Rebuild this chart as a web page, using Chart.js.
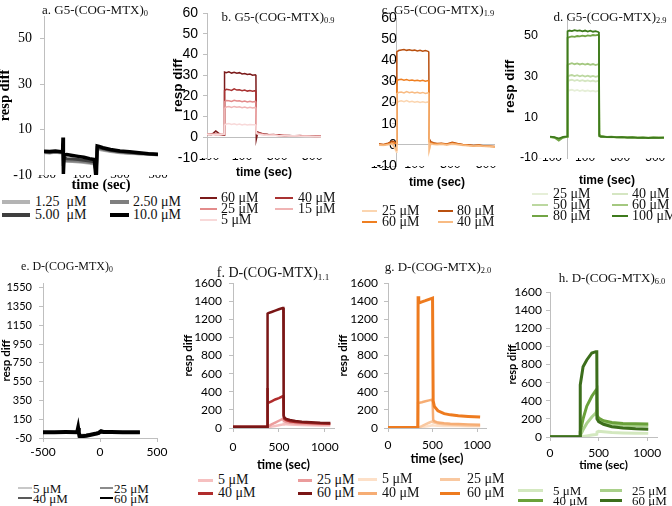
<!DOCTYPE html>
<html>
<head>
<meta charset="utf-8">
<script src="https://cdn.jsdelivr.net/npm/chart.js@4.4.1/dist/chart.umd.min.js"></script>
<style>
  html, body { margin: 0; padding: 0; background: #fff; }
  #fig { position: relative; width: 672px; height: 506px; overflow: hidden; background: #fff; }
  #fig canvas { position: absolute; }
  .ttl { position: absolute; font-family: "Liberation Serif", serif; white-space: nowrap; line-height: 1; transform: translate(-50%, -50%); color: #111; }
  .ttl sub { font-size: 65%; vertical-align: -0.3em; line-height: 0; }
  .key { position: absolute; }
  .key-txt { position: absolute; font-family: "Liberation Serif", serif; white-space: pre; line-height: 1; transform: translateY(-50%); color: #111; }
</style>
</head>
<body>
<div id="fig"></div>
<script>
// --- tick labels ---
const g5XTicks = [-100, 100, 300, 500];
const aYTicks = [-10, 10, 30, 50];
const bYTicks = [-10, 0, 10, 20, 30, 40, 50, 60];
const dYTicks = [-10, 10, 30, 50];
const eXTicks = [-500, 0, 500];
const eYTicks = [-50, 150, 350, 550, 750, 950, 1150, 1350, 1550];
const dXTicks = [0, 500, 1000];
const dYTicks2 = [0, 200, 400, 600, 800, 1000, 1200, 1400, 1600];

// --- a. G5-(COG-MTX)0 ---
const aTime = [-100, -70, -40, -10, -2, 0, 2, 6, 20, 50, 80, 110, 140, 165, 172, 176, 180, 190, 210, 250, 300, 350, 400, 450, 500];
const aLabels = ['1.25  μM', '2.50 μM', '5.00  μM', '10.0 μM'];
const aColors = ['#b4b4b4', '#7f7f7f', '#3f3f3f', '#000000'];
const a125 = [-0.2, -0.3, 0.0, -0.3, -0.3, 1.0, -3.5, -3.8, -3.9, -4.1, -4.3, -4.5, -4.8, -5.2, -7.0, -6.0, 1.2, 1.2, 0.9, 0.3, -0.2, -0.5, -0.7, -0.9, -1.2];
const a250 = [0.0, -0.2, 0.1, -0.1, -0.2, 2.0, -4.0, -3.5, -3.7, -3.8, -4.0, -4.2, -4.5, -4.8, -7.5, -6.0, 1.8, 1.6, 1.2, 0.6, 0.0, -0.3, -0.6, -0.8, -1.1];
const a500 = [0.2, 0.0, 0.3, 0.1, 0.0, 4.0, -6.0, -2.5, -2.8, -3.0, -3.2, -3.5, -3.8, -4.2, -8.0, -7.0, 2.2, 2.0, 1.6, 0.9, 0.3, 0.0, -0.4, -0.7, -1.0];
const a100 = [0.5, 0.3, 0.6, 0.2, 0.4, 6.5, -9.5, -1.2, -1.0, -1.4, -1.8, -2.2, -2.8, -3.2, -10, -9.5, 2.8, 2.6, 2.0, 1.2, 0.6, 0.2, -0.2, -0.6, -0.9];

// --- b, c, d share one time base ---
const gTime = [-100, -75, -50, -25, -2, 0, 10, 25, 40, 55, 70, 85, 100, 115, 130, 145, 160, 175, 179, 181, 190, 205, 225, 250, 280, 310, 340, 370, 400, 430, 460, 490, 520, 550];

// --- b. G5-(COG-MTX)0.9 ---
const bLabels = ['60 μM', '40 μM', '25 μM', '15 μM', '5 μM'];
const bColors = ['#7b1a1a', '#a93232', '#e38b8b', '#f0b4b4', '#f8d9d9'];
const b60 = [1.5, 1.2, 3.0, 1.4, 1.0, 31.5, 31.2, 31.6, 31.0, 31.4, 30.9, 31.2, 30.6, 30.8, 30.3, 30.5, 30.0, 30.2, 29.8, -1.0, 2.5, 2.0, 1.6, 1.3, 1.0, 1.2, 0.8, 0.9, 0.6, 0.8, 0.5, 0.6, 0.4, 0.5];
const b40 = [1.4, 1.6, 1.3, 1.5, 1.2, 22.5, 23.2, 23.0, 22.6, 23.4, 22.8, 22.9, 22.5, 22.8, 22.3, 22.6, 22.2, 22.5, 22.1, 2.8, 2.2, 1.9, 1.5, 1.2, 1.3, 1.0, 0.9, 0.8, 0.7, 0.9, 0.6, 0.5, 0.6, 0.5];
const b25 = [1.6, 1.3, 1.7, 1.2, 1.5, 17.2, 17.8, 17.6, 17.3, 17.9, 17.5, 17.6, 17.2, 17.5, 17.1, 17.4, 17.0, 17.3, 16.9, 2.5, 2.0, 1.7, 1.4, 1.1, 1.2, 0.9, 1.0, 0.7, 0.8, 0.6, 0.7, 0.5, 0.4, 0.5];
const b15 = [1.3, 1.5, 1.2, 1.6, 1.4, 14.0, 14.6, 14.8, 14.4, 14.9, 14.5, 14.7, 14.3, 14.6, 14.2, 14.5, 14.1, 14.4, 14.0, 2.2, 1.8, 1.5, 1.2, 1.0, 1.1, 0.8, 0.9, 0.6, 0.7, 0.5, 0.6, 0.4, 0.5, 0.3];
const b5 = [1.5, 1.2, 1.4, 1.3, 1.6, 5.9, 6.4, 6.6, 6.2, 6.5, 6.1, 6.4, 6.0, 6.3, 5.9, 6.2, 6.0, 6.1, 5.8, 1.8, 1.5, 1.3, 1.1, 0.9, 1.0, 0.7, 0.8, 0.6, 0.7, 0.5, 0.4, 0.5, 0.3, 0.4];

// --- c. G5-(COG-MTX)1.9 ---
const cLabels = ['25 μM', '80 μM', '60 μM', '40 μM'];
const cColors = ['#fbd5b0', '#b9500f', '#ef7f21', '#f8bb83'];
const c25 = [-0.2, -0.3, 0.0, 0.3, -3.5, 20.0, 20.5, 20.8, 20.4, 20.9, 20.3, 20.6, 20.2, 20.5, 20.1, 20.4, 20.0, 20.3, 19.9, -3.0, 0.4, 0.2, 0.0, 0.2, -0.2, 0.3, 0.0, -0.3, -0.5, -0.6, -0.5, -0.8, -0.9, -1.1];
const c80 = [0.5, 0.2, 0.8, 1.8, 1.0, 44.0, 44.6, 44.9, 45.1, 44.7, 45.0, 44.6, 44.8, 44.4, 44.7, 44.3, 44.6, 44.2, 44.0, 3.0, 1.5, 1.0, 0.6, 0.8, 0.4, 1.2, 0.6, 0.2, 0.0, -0.3, -0.1, -0.5, -0.6, -0.8];
const c60 = [0.2, 0.0, 0.4, 1.0, 0.5, 30.2, 30.8, 31.0, 30.6, 30.9, 30.4, 30.7, 30.3, 30.6, 30.2, 30.5, 30.1, 30.4, 30.0, 1.5, 1.0, 0.6, 0.4, 0.6, 0.2, 0.9, 0.4, 0.1, -0.2, -0.4, -0.2, -0.6, -0.7, -0.9];
const c40 = [0.0, -0.2, 0.2, 0.5, -2.5, 24.2, 24.8, 25.0, 24.6, 25.2, 24.7, 25.0, 24.5, 24.9, 24.4, 24.8, 24.3, 24.6, 24.2, -2.5, 0.6, 0.3, 0.2, 0.4, 0.0, 0.5, 0.2, -0.1, -0.3, -0.5, -0.4, -0.7, -0.8, -1.0];

// --- d. G5-(COG-MTX)2.9 ---
const dLabels = ['25 μM', '40 μM', '50 μM', '60 μM', '80 μM', '100 μM'];
const dColors = ['#e6efd8', '#d5e6c2', '#bcd8a0', '#a4c880', '#72a545', '#3e7a1c'];
const d25 = [0.2, 0.0, -0.3, 0.1, 0.3, 22.6, 23.1, 23.4, 22.9, 23.3, 22.8, 23.2, 22.7, 23.1, 22.6, 23.0, 22.5, 22.9, 22.4, 0.5, 0.3, 0.2, 0.1, 0.2, 0.0, 0.1, -0.1, 0.0, -0.2, 0.0, -0.1, 0.0, -0.2, 0.0];
const d40 = [0.1, -0.1, -0.4, 0.2, 0.2, 27.5, 28.0, 28.3, 27.8, 28.2, 27.7, 28.1, 27.6, 28.0, 27.5, 27.9, 27.4, 27.8, 27.3, 0.6, 0.4, 0.2, 0.2, 0.1, 0.1, 0.0, 0.1, -0.1, 0.0, -0.1, 0.0, -0.2, 0.0, -0.1];
const d50 = [0.3, 0.1, -0.6, 0.0, 0.4, 29.8, 30.3, 30.6, 30.1, 30.5, 30.0, 30.4, 29.9, 30.3, 29.8, 30.2, 29.7, 30.1, 29.6, 0.7, 0.5, 0.3, 0.2, 0.3, 0.1, 0.2, 0.0, 0.1, -0.1, 0.0, -0.1, 0.1, -0.1, 0.0];
const d60 = [0.2, 0.0, -0.8, 0.1, 0.5, 35.5, 36.0, 36.4, 35.9, 36.3, 35.8, 36.2, 35.7, 36.1, 35.6, 36.0, 35.5, 35.9, 35.4, 0.9, 0.6, 0.4, 0.3, 0.2, 0.2, 0.1, 0.2, 0.0, 0.1, -0.1, 0.0, 0.1, -0.1, 0.0];
const d80 = [0.3, 0.0, -1.5, 0.0, 0.4, 48.8, 49.2, 49.5, 49.3, 49.7, 49.5, 49.9, 49.6, 50.0, 49.8, 50.2, 50.0, 50.3, 50.1, 1.5, 0.8, 0.6, 0.3, 0.4, 0.2, 0.3, 0.1, 0.2, 0.0, 0.1, -0.1, 0.0, 0.1, 0.0];
const d100 = [0.5, 0.2, -0.5, 0.3, 0.6, 52.0, 52.4, 52.1, 52.6, 52.2, 52.5, 52.0, 52.4, 51.9, 52.3, 51.8, 52.1, 51.7, 51.5, 0.8, 0.4, 0.5, 0.2, 0.3, 0.1, 0.2, 0.0, 0.1, -0.1, 0.0, -0.2, 0.0, -0.1, 0.0];

// --- e. D-(COG-MTX)0 ---
const eTime = [-500, -400, -300, -200, -192, -186, -180, -170, -150, -120, -90, -60, -30, -10, 0, 10, 30, 100, 200, 300, 350];
const eLabels = ['5 μM', '25 μM', '40 μM', '60 μM'];
const eColors = ['#c8c8c8', '#8c8c8c', '#595959', '#000000'];
const e5 = [5, 5, 6, 5, 20, 2, -10, -14, -13, -11, -8, -4, 0, 2, 5, 8, 7, 6, 5, 5, 5];
const e25 = [8, 8, 9, 8, 30, 3, -15, -20, -19, -16, -11, -6, 0, 3, 8, 12, 10, 9, 8, 8, 8];
const e40 = [10, 10, 11, 10, 40, 5, -20, -25, -24, -20, -14, -8, -1, 4, 10, 16, 12, 11, 10, 10, 10];
const e60 = [12, 12, 13, 12, 57, 10, -29, -32, -30, -25, -18, -10, -2, 5, 14, 22, 15, 13, 12, 12, 12];

// --- f. D-(COG-MTX)1.1 ---
const fTime = [0, 100, 200, 300, 372, 375, 378, 385, 420, 460, 500, 540, 548, 552, 560, 580, 620, 680, 750, 850, 950, 1060];
const fLabels = ['5 μM', '25 μM', '40 μM', '60 μM'];
const fColors = ['#f6c0c0', '#eb9c9c', '#b02c2c', '#7a1616'];
const f5 = [5, 4, 4, 4, 4, 5, 6, 8, 15, 22, 30, 38, 38, 45, 44, 42, 38, 35, 32, 30, 28, 27];
const f25 = [10, 9, 9, 9, 9, 10, 14, 20, 40, 60, 80, 100, 100, 80, 72, 66, 58, 52, 48, 44, 41, 40];
const f40 = [15, 14, 14, 13, 14, 441, 276, 278, 295, 315, 330, 349, 349, 120, 100, 88, 75, 66, 60, 55, 50, 48];
const f60 = [15, 14, 14, 13, 14, 1255, 1262, 1268, 1280, 1295, 1310, 1324, 1324, 140, 115, 100, 88, 78, 70, 63, 58, 55];

// --- g. D-(COG-MTX)2.0 ---
const gTime2 = [0, 100, 200, 300, 335, 338, 345, 380, 420, 460, 500, 503, 507, 520, 560, 630, 700, 790, 900, 1034];
const gLabels = ['5 μM', '25 μM', '40 μM', '60 μM'];
const gColors = ['#fde0c8', '#f9c8a0', '#f6ad74', '#ee7b1f'];
const g5 = [0, 0, 0, 0, 0, 1, 2, 8, 15, 22, 30, 30, 28, 27, 25, 23, 22, 21, 20, 20];
const g25 = [1, 1, 1, 1, 1, 2, 5, 20, 40, 58, 74, 74, 62, 60, 50, 42, 36, 32, 28, 26];
const g40 = [3, 3, 3, 3, 3, 276, 276, 285, 295, 305, 313, 313, 90, 74, 60, 52, 47, 43, 40, 37];
const g60 = [5, 5, 5, 5, 5, 1453, 1379, 1392, 1405, 1420, 1434, 1434, 300, 239, 190, 158, 145, 136, 128, 121];

// --- h. D-(COG-MTX)6.0 ---
const hTime = [0, 100, 200, 300, 309, 311, 340, 378, 430, 471, 481, 484, 500, 550, 636, 750, 880, 1010];
const hLabels = ['5 μM', '25 μM', '40 μM', '60 μM'];
const hColors = ['#d3e8bf', '#a9d08a', '#6aa13a', '#3c6e1c'];
const h5 = [0, 0, 0, 0, 0, 0, 5, 12, 22, 28, 30, 55, 63, 58, 50, 45, 42, 40];
const h25 = [0, 0, 0, 0, 0, 15, 80, 150, 220, 265, 290, 200, 180, 155, 140, 130, 125, 122];
const h40 = [1, 1, 1, 1, 1, 60, 200, 340, 450, 515, 527, 240, 210, 180, 160, 150, 145, 143];
const h60 = [2, 2, 2, 2, 2, 574, 776, 850, 927, 942, 942, 200, 170, 140, 114, 100, 90, 85];

// --- styling ---
const AXIS = '#bfbfbf';
const SERIF = '"Liberation Serif", "Times New Roman", serif';
const SANS = '"Liberation Sans", Arial, sans-serif';
const CAL = 'Lato, "Open Sans", sans-serif';

const panels = [
  { time: aTime, series: [a125, a250, a500, a100], labels: aLabels, colors: aColors, widths: [3, 3, 3, 3.5],
    xr: [-100, 500], xt: g5XTicks, yr: [-10, 60], yt: aYTicks, upper: true,
    box: { L: 44, R: 158, T: 16, B: 175, yW: 47, xH: 19, padR: 16 },
    yTick: 4, yPad: 8, xPad: -7.8,
    font: { tick: SERIF, y: 14, x: 13, title: SERIF, yT: 14.5, xT: 14.5 }, xTitle: true,
    title: { text: 'a. G5-(COG-MTX)', sub: '0', cx: 95, cy: 9, size: 13 },
    key: { rows: [202, 215], cols: [[2, 28, 35], [110, 19, 133]], size: 14, thick: 4 } },
  { time: gTime, series: [b60, b40, b25, b15, b5], labels: bLabels, colors: bColors, widths: [1.5, 1.5, 1.5, 1.5, 1.5],
    xr: [-100, 550], xt: g5XTicks, yr: [-10, 60], yt: bYTicks, upper: true,
    box: { L: 207, R: 321, T: 13, B: 158, yW: 37, xH: 22, padR: 16 },
    yTick: 4, yPad: 5, xPad: -8.5,
    font: { tick: SANS, y: 14, x: 12.5, title: SANS, yT: 13.5, xT: 12 }, xTitle: true,
    title: { text: 'b. G5-(COG-MTX)', sub: '0.9', cx: 278, cy: 16, size: 13 },
    key: { rows: [198, 209, 220], cols: [[200, 17, 221], [275, 18, 298]], size: 14, thick: 2.5 } },
  { time: gTime, series: [c25, c80, c60, c40], labels: cLabels, colors: cColors, widths: [1.5, 1.5, 1.5, 1.5],
    xr: [-100, 550], xt: g5XTicks, yr: [-10, 60], yt: bYTicks, upper: true, floatY: true,
    box: { L: 379, R: 495, T: 18, B: 166, yW: 55, xH: 24, padR: 16, padL: 16 },
    yTick: 4, yPad: 3, xPad: -8.5,
    font: { tick: SANS, y: 14, x: 12.5, title: SANS, yT: 13.5, xT: 12 }, xTitle: true,
    title: { text: 'c. G5-(COG-MTX)', sub: '1.9', cx: 438, cy: 9, size: 13 },
    key: { rows: [211, 222], cols: [[362, 15, 382], [438, 15, 457]], size: 14, thick: 2 } },
  { time: gTime, series: [d25, d40, d50, d60, d80, d100], labels: dLabels, colors: dColors, widths: [1.8, 1.8, 1.8, 1.8, 1.8, 1.8],
    xr: [-100, 550], xt: g5XTicks, yr: [-10, 60], yt: dYTicks, upper: true, zeroAxis: true,
    box: { L: 550, R: 664, T: 15, B: 158, yW: 48, xH: 30, padR: 12 },
    yTick: 0, yPad: 12, xPad: -7.2,
    font: { tick: SANS, y: 12.5, x: 12, title: SANS, yT: 13.5, xT: 12 }, xTitle: true,
    title: { text: 'd. G5-(COG-MTX)', sub: '2.9', cx: 610, cy: 16, size: 13 },
    key: { rows: [194, 205, 216], cols: [[532, 16, 553], [612, 16, 632]], size: 14, thick: 2 } },
  { time: eTime, series: [e5, e25, e40, e60], labels: eLabels, colors: eColors, widths: [2, 2, 2.5, 4],
    xr: [-500, 500], xt: eXTicks, yr: [-50, 1600], yt: eYTicks,
    box: { L: 43, R: 157, T: 283, B: 438, yW: 44, xH: 30, padR: 16 },
    yTick: 4, yPad: 7, xPad: 3,
    font: { tick: CAL, y: 11, x: 12, title: CAL, yT: 11.5, xT: 12 }, xTitle: false,
    title: { text: 'e. D-(COG-MTX)', sub: '0', cx: 67, cy: 266, size: 12 },
    key: { rows: [488, 498], cols: [[18, 14, 33], [100, 13, 114]], size: 13, thick: 2 } },
  { time: fTime, series: [f5, f25, f40, f60], labels: fLabels, colors: fColors, widths: [2.5, 2.5, 2.5, 2.5],
    xr: [0, 1100], xt: dXTicks, yr: [0, 1600], yt: dYTicks2,
    box: { L: 233, R: 334, T: 283, B: 428, yW: 52, xH: 44, padR: 16 },
    yTick: 4, yPad: 7, xPad: 8,
    font: { tick: CAL, y: 12, x: 12, title: CAL, yT: 11.5, xT: 12.5 }, xTitle: true,
    title: { text: 'f. D-(COG-MTX)', sub: '1.1', cx: 273, cy: 273, size: 14 },
    key: { rows: [480, 493], cols: [[198, 15, 218], [298, 14, 317]], size: 14, thick: 3 } },
  { time: gTime2, series: [g5, g25, g40, g60], labels: gLabels, colors: gColors, widths: [2.5, 2.5, 2.5, 3],
    xr: [0, 1100], xt: dXTicks, yr: [0, 1600], yt: dYTicks2,
    box: { L: 388, R: 486, T: 283, B: 428, yW: 52, xH: 38, padR: 16 },
    yTick: 4, yPad: 6, xPad: 6,
    font: { tick: CAL, y: 12, x: 12, title: CAL, yT: 11.5, xT: 12.5 }, xTitle: true,
    title: { text: 'g. D-(COG-MTX)', sub: '2.0', cx: 438, cy: 266, size: 13 },
    key: { rows: [479, 493], cols: [[358, 19, 382], [440, 20, 467]], size: 14, thick: 3 } },
  { time: hTime, series: [h5, h25, h40, h60], labels: hLabels, colors: hColors, widths: [3, 3, 3, 3],
    xr: [0, 1100], xt: dXTicks, yr: [0, 1600], yt: dYTicks2,
    box: { L: 550, R: 657, T: 292, B: 437, yW: 44, xH: 35, padR: 15 },
    yTick: 4, yPad: 4, xPad: 5,
    font: { tick: CAL, y: 12, x: 12, title: CAL, yT: 11, xT: 11.5 }, xTitle: true,
    title: { text: 'h. D-(COG-MTX)', sub: '6.0', cx: 612, cy: 277, size: 13 },
    key: { rows: [490, 500], cols: [[518, 25, 553], [600, 22, 632]], size: 13, thick: 3 } }
];

const fig = document.getElementById('fig');

function fixTicks(list) {
    return scale => { scale.ticks = list.map(v => ({ value: v })); };
}

function makePanel(p) {
    const b = p.box;
    const padL = b.padL || 0;
    const padT = 24;
    const left = p.floatY ? b.L - padL : b.L - b.yW - padL;
    const top = b.T - padT;

    const cv = document.createElement('canvas');
    cv.width = b.R + b.padR - left;
    cv.height = b.B + b.xH - top;
    cv.style.left = left + 'px';
    cv.style.top = top + 'px';
    fig.appendChild(cv);

    const datasets = p.series.map((vals, i) => ({
        label: p.labels[i],
        data: vals.map((v, k) => ({ x: p.time[k], y: v })),
        borderColor: p.colors[i],
        backgroundColor: p.colors[i],
        borderWidth: p.widths[i],
        order: p.series.length - i
    }));

    const scales = {
        x: {
            type: 'linear', min: p.xr[0], max: p.xr[1],
            afterBuildTicks: fixTicks(p.xt),
            afterFit: s => { s.height = b.xH; },
            grid: p.upper ? { display: false, drawTicks: false }
                          : { drawOnChartArea: false, color: AXIS, tickColor: AXIS, tickLength: 4 },
            border: { display: !p.upper, color: AXIS },
            ticks: {
                padding: p.xPad, color: '#000', autoSkip: false, maxRotation: 0,
                font: { family: p.font.tick, size: p.font.x },
                callback: v => String(v)
            },
            title: {
                display: p.xTitle, text: 'time (sec)', padding: 0, color: '#000',
                font: { family: p.font.title, size: p.font.xT, weight: 'bold' }
            }
        },
        y: {
            type: 'linear', min: p.yr[0], max: p.yr[1],
            position: p.floatY ? { x: 0 } : 'left',
            afterBuildTicks: fixTicks(p.yt),
            afterFit: s => { s.width = b.yW; },
            grid: {
                drawOnChartArea: !!p.upper,
                color: c => (p.upper && c.tick && c.tick.value === 0) ? AXIS : 'rgba(0,0,0,0)',
                drawTicks: p.yTick > 0, tickLength: p.yTick, tickColor: AXIS
            },
            border: { display: !p.zeroAxis, color: AXIS },
            ticks: {
                padding: p.yPad, color: '#000',
                font: { family: p.font.tick, size: p.font.y },
                callback: v => String(v)
            },
            title: {
                display: true, text: 'resp diff', padding: 0, color: '#000',
                font: { family: p.font.title, size: p.font.yT, weight: 'bold' }
            }
        }
    };

    // panel d: vertical axis line sits at t = 0, labels stay at the left
    if (p.zeroAxis) {
        scales.y2 = {
            axis: 'y', type: 'linear', min: p.yr[0], max: p.yr[1], position: { x: 0 },
            ticks: { display: false }, grid: { display: false, drawTicks: false },
            border: { display: true, color: AXIS },
            afterFit: s => { s.width = 0; }
        };
    }

    new Chart(cv, {
        type: 'line',
        data: { datasets },
        options: {
            responsive: false, animation: false, events: [],
            layout: { padding: { left: padL, top: padT, right: b.padR, bottom: 0 } },
            elements: { point: { radius: 0 }, line: { tension: 0, fill: false } },
            plugins: { legend: { display: false }, tooltip: { enabled: false } },
            scales
        }
    });

    // title with subscript
    const t = document.createElement('div');
    t.className = 'ttl';
    t.style.left = p.title.cx + 'px';
    t.style.top = p.title.cy + 'px';
    t.style.fontSize = p.title.size + 'px';
    t.innerHTML = p.title.text + '<sub>' + p.title.sub + '</sub>';
    fig.appendChild(t);

    // two-column key
    const k = p.key;
    p.labels.forEach((lab, i) => {
        const rowY = k.rows[Math.floor(i / 2)];
        const [lx, lw, tx] = k.cols[i % 2];
        const ln = document.createElement('div');
        ln.className = 'key';
        ln.style.cssText = `left:${lx}px;top:${rowY - k.thick / 2}px;width:${lw}px;height:${k.thick}px;background:${p.colors[i]}`;
        fig.appendChild(ln);
        const tt = document.createElement('div');
        tt.className = 'key-txt';
        tt.style.cssText = `left:${tx}px;top:${rowY}px;font-size:${k.size}px`;
        tt.textContent = lab;
        fig.appendChild(tt);
    });
}

panels.forEach(makePanel);
</script>
</body>
</html>
